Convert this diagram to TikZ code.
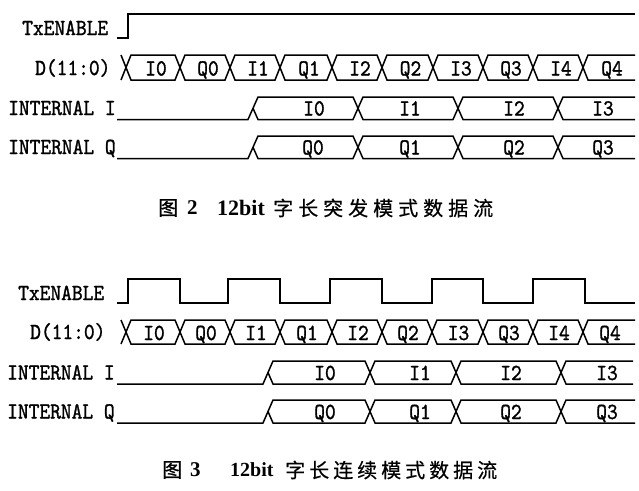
\documentclass[tikz,border=0pt]{standalone}
\usepackage{fontspec}
\newfontfamily\sigfont[FakeStretch=0.89,FakeBold=1.2]{lmmono10-regular.otf}
\newfontfamily\capfont{Liberation Serif}
\newfontfamily\cjkfonta[LetterSpace=25,FakeBold=0.5]{Noto Sans CJK SC}
\newfontfamily\cjkfontb[LetterSpace=20,FakeBold=0.5]{Noto Sans CJK SC}
\newfontfamily\cjkplain[FakeBold=1]{Noto Sans CJK SC}
\begin{document}
\begin{tikzpicture}[x=1pt,y=-1pt,
  wave/.style={line width=1.5pt, line join=miter},
  sig/.style={font=\sigfont\fontsize{23}{25}\selectfont, inner sep=0pt, text height=14pt, text depth=0pt},
  sigl/.style={sig, anchor=west},
  capfig/.style={font=\cjkplain\fontsize{20}{20}\selectfont, inner sep=0pt, anchor=west},
  caplat/.style={font=\capfont\bfseries, inner sep=0pt, anchor=west}]
\useasboundingbox (0,0) rectangle (639,490);
\fill[white] (0,0) rectangle (639,490);

% ================= Figure 2 (top) =================
\node[sigl] (aTx) at (22,28) {TxENABLE};
\node[sigl] (aD)  at (35,68) {D(11:0)};
\node[sigl] (aI)  at (8,108) {INTERNAL I};
\node[sigl] (aQ)  at (8,147) {INTERNAL Q};

\draw[wave] (117,38) -- (128,38) -- (128,14) -- (635,14);

% D bus
\draw[wave] (121,55) -- (126,67.5) -- (121,80);
\foreach \a/\b in {126/180,180/230,230/280,280/332,332/382,382/433,433/483,483/533,533/583}
  \draw[wave] (\a,67.5) -- (\a+5,55) -- (\b-5,55) -- (\b,67.5) -- (\b-5,80) -- (\a+5,80) -- cycle;
\draw[wave] (635,55) -- (588,55) -- (583,67.5) -- (588,80) -- (635,80);
\foreach \a/\b/\lab in {126/180/I0,180/230/Q0,230/280/I1,280/332/Q1,332/382/I2,382/433/Q2,433/483/I3,483/533/Q3,533/583/I4,583/635/Q4}
  \node[sig] (aD\lab) at ({(\a+\b)/2+3},68.5) {\lab};

% INTERNAL I
\draw[wave] (117,119.5) -- (248,119.5) -- (253,108.25);
\foreach \a/\b in {253/358,358/458,458/558}
  \draw[wave] (\a,108.25) -- (\a+5,97) -- (\b-5,97) -- (\b,108.25) -- (\b-5,119.5) -- (\a+5,119.5) -- cycle;
\draw[wave] (635,97) -- (563,97) -- (558,108.25) -- (563,119.5) -- (635,119.5);
\foreach \x/\lab in {314/I0,410/I1,514/I2,603/I3}
  \node[sig] (aI\lab) at (\x,108.5) {\lab};

% INTERNAL Q
\draw[wave] (117,158.5) -- (248,158.5) -- (253,147.25);
\foreach \a/\b in {253/358,358/458,458/558}
  \draw[wave] (\a,147.25) -- (\a+5,136) -- (\b-5,136) -- (\b,147.25) -- (\b-5,158.5) -- (\a+5,158.5) -- cycle;
\draw[wave] (635,136) -- (563,136) -- (558,147.25) -- (563,158.5) -- (635,158.5);
\foreach \x/\lab in {313/Q0,410/Q1,514/Q2,603/Q3}
  \node[sig] (aQ\lab) at (\x,147.5) {\lab};

% caption
\node[capfig] (aCfig) at (158,208) {图};
\node[caplat, font=\capfont\bfseries\fontsize{21}{21}\selectfont] (aCnum) at (187,208) {2};
\node[caplat, font=\capfont\bfseries\fontsize{22}{22}\selectfont] (aCbit) at (217,208) {12bit};
\node[capfig, font=\cjkfonta\fontsize{20}{20}\selectfont] (aCtxt) at (273,208) {字长突发模式数据流};

% ================= Figure 3 (bottom) =================
\node[sigl] (bTx) at (18,293) {TxENABLE};
\node[sigl] (bD)  at (30,332) {D(11:0)};
\node[sigl] (bI)  at (7,372.5) {INTERNAL I};
\node[sigl] (bQ)  at (7,411.5) {INTERNAL Q};

\draw[wave] (117,303) -- (128,303) -- (128,279) -- (180,279) -- (180,303) -- (228,303) -- (228,279)
  -- (280,279) -- (280,303) -- (330,303) -- (330,279) -- (382,279) -- (382,303) -- (432,303)
  -- (432,279) -- (483,279) -- (483,303) -- (533,303) -- (533,279) -- (585,279) -- (585,303) -- (635,303);

% D bus
\draw[wave] (121,320) -- (126,332) -- (121,344);
\foreach \a/\b in {126/180,180/230,230/280,280/332,332/382,382/432,432/483,483/533,533/583}
  \draw[wave] (\a,332) -- (\a+5,320) -- (\b-5,320) -- (\b,332) -- (\b-5,344) -- (\a+5,344) -- cycle;
\draw[wave] (635,320) -- (588,320) -- (583,332) -- (588,344) -- (635,344);
\foreach \a/\b/\lab in {126/180/I0,180/230/Q0,230/280/I1,280/332/Q1,332/382/I2,382/432/Q2,432/483/I3,483/533/Q3,533/583/I4,583/635/Q4}
  \node[sig] (bD\lab) at ({(\a+\b)/2+1},333) {\lab};

% INTERNAL I
\draw[wave] (117,384) -- (263,384) -- (268,372.5);
\foreach \a/\b in {268/370,370/456,456/561}
  \draw[wave] (\a,372.5) -- (\a+5,361) -- (\b-5,361) -- (\b,372.5) -- (\b-5,384) -- (\a+5,384) -- cycle;
\draw[wave] (633,361) -- (566,361) -- (561,372.5) -- (566,384) -- (633,384);
\foreach \x/\lab in {325/I0,420/I1,511/I2,607/I3}
  \node[sig] (bI\lab) at (\x,373) {\lab};

% INTERNAL Q
\draw[wave] (117,423) -- (263,423) -- (268,411.5);
\foreach \a/\b in {268/370,370/456,456/561}
  \draw[wave] (\a,411.5) -- (\a+5,400) -- (\b-5,400) -- (\b,411.5) -- (\b-5,423) -- (\a+5,423) -- cycle;
\draw[wave] (635,400) -- (566,400) -- (561,411.5) -- (566,423) -- (635,423);
\foreach \x/\lab in {325/Q0,420/Q1,511/Q2,607/Q3}
  \node[sig] (bQ\lab) at (\x,412) {\lab};

% caption
\node[capfig] (bCfig) at (162,470) {图};
\node[caplat, font=\capfont\bfseries\fontsize{21}{21}\selectfont] (bCnum) at (190,470) {3};
\node[caplat, font=\capfont\bfseries\fontsize{20}{20}\selectfont] (bCbit) at (230,470) {12bit};
\node[capfig, font=\cjkfontb\fontsize{20}{20}\selectfont] (bCtxt) at (285,470) {字长连续模式数据流};
\end{tikzpicture}
\end{document}
